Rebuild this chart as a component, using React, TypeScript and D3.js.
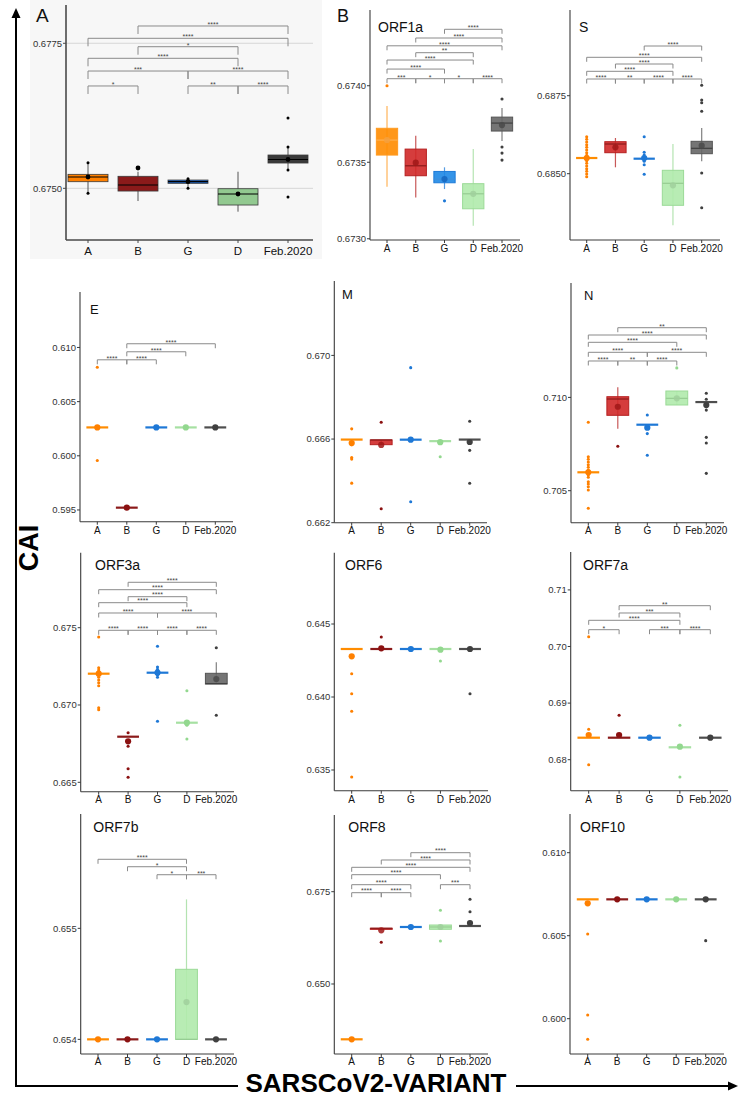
import React from "react";
import * as d3 from "d3";

const CATS = ["A", "B", "G", "D", "Feb.2020"];
const FONT = "Liberation Sans, Arial, Helvetica, sans-serif";

type Box = { q1: number; med: number; q3: number; lo: number; hi: number; mean: number; out: number[] };
type Bracket = [string, string, number, string];

const flat = (v: number, mean: number, out: number[]): Box => ({ q1: v, med: v, q3: v, lo: v, hi: v, mean, out });

// ---------- Panel A (whole genome) ----------
const allBoxes: Box[] = [
  { q1: 0.675114, med: 0.675195, q3: 0.675241, lo: 0.674914, hi: 0.675441, mean: 0.675195, out: [0.675441, 0.674914] },
  { q1: 0.674953, med: 0.675057, q3: 0.675207, lo: 0.674781, hi: 0.675286, mean: 0.67535, out: [] },
  { q1: 0.675086, med: 0.675114, q3: 0.675143, lo: 0.675, hi: 0.675166, mean: 0.675114, out: [0.675166, 0.675] },
  { q1: 0.674712, med: 0.674902, q3: 0.674993, lo: 0.674597, hi: 0.675286, mean: 0.674902, out: [] },
  { q1: 0.675436, med: 0.675497, q3: 0.675574, lo: 0.675316, hi: 0.675712, mean: 0.675497, out: [0.676212, 0.675712, 0.675316, 0.67485] },
];
const allBrackets: Bracket[] = [
  ["B", "Feb.2020", 0.677798, "****"],
  ["A", "Feb.2020", 0.677586, "****"],
  ["B", "D", 0.677441, "*"],
  ["A", "D", 0.677241, "****"],
  ["A", "G", 0.677022, "***"],
  ["G", "Feb.2020", 0.677022, "****"],
  ["A", "B", 0.676764, "*"],
  ["G", "D", 0.676764, "**"],
  ["D", "Feb.2020", 0.676764, "****"],
];
const allTicks = [0.675, 0.6775];

// ---------- ORF1a ----------
const orf1aBoxes: Box[] = [
  { q1: 0.673547, med: 0.673645, q3: 0.673722, lo: 0.67334, hi: 0.673867, mean: 0.673645, out: [0.674] },
  { q1: 0.673412, med: 0.673477, q3: 0.673586, lo: 0.67327, hi: 0.673673, mean: 0.673497, out: [] },
  { q1: 0.673366, med: 0.67339, q3: 0.67344, lo: 0.673325, hi: 0.673467, mean: 0.67339, out: [0.673248] },
  { q1: 0.673196, med: 0.673294, q3: 0.67336, lo: 0.673085, hi: 0.673586, mean: 0.673294, out: [] },
  { q1: 0.673704, med: 0.673756, q3: 0.673795, lo: 0.673639, hi: 0.673854, mean: 0.673743, out: [0.673913, 0.6736, 0.67356, 0.673514] },
];
const orf1aBrackets: Bracket[] = [
  ["G", "Feb.2020", 0.674369, "****"],
  ["B", "Feb.2020", 0.674312, "****"],
  ["A", "Feb.2020", 0.674261, "****"],
  ["B", "D", 0.674216, "**"],
  ["A", "D", 0.674168, "****"],
  ["A", "G", 0.674109, "****"],
  ["A", "B", 0.674046, "***"],
  ["B", "G", 0.674046, "*"],
  ["G", "D", 0.674046, "*"],
  ["D", "Feb.2020", 0.674046, "****"],
];
const orf1aTicks = [0.673, 0.6735, 0.674];

// ---------- S ----------
const sBoxes: Box[] = [
  flat(0.685503, 0.685503, [0.686186, 0.686103, 0.686016, 0.685929, 0.685846, 0.68576, 0.685673, 0.68559, 0.685417, 0.685333, 0.685247, 0.68516, 0.685077, 0.68499, 0.684904]),
  { q1: 0.685673, med: 0.685952, q3: 0.686026, lo: 0.685205, hi: 0.686144, mean: 0.685846, out: [] },
  flat(0.685481, 0.685503, [0.686186, 0.685686, 0.685599, 0.685397, 0.685288, 0.684981]),
  { q1: 0.683987, med: 0.684692, q3: 0.685109, lo: 0.683346, hi: 0.685952, mean: 0.684628, out: [] },
  { q1: 0.685641, med: 0.685814, q3: 0.686038, lo: 0.685397, hi: 0.686465, mean: 0.685897, out: [0.687833, 0.687362, 0.687276, 0.687, 0.685022, 0.68391] },
];
const sBrackets: Bracket[] = [
  ["G", "Feb.2020", 0.689093, "****"],
  ["A", "Feb.2020", 0.688731, "****"],
  ["B", "D", 0.688516, "****"],
  ["A", "D", 0.688282, "****"],
  ["A", "B", 0.688035, "****"],
  ["B", "G", 0.688035, "**"],
  ["G", "D", 0.688035, "****"],
  ["D", "Feb.2020", 0.688035, "****"],
];
const sTicks = [0.685, 0.6875];

// ---------- E ----------
const eBoxes: Box[] = [
  flat(0.60262, 0.60262, [0.608176, 0.599565]),
  flat(0.595213, 0.595213, []),
  flat(0.60262, 0.60262, []),
  flat(0.60262, 0.60262, []),
  flat(0.60262, 0.60262, []),
];
const eBrackets: Bracket[] = [
  ["B", "Feb.2020", 0.610343, "****"],
  ["B", "D", 0.609602, "****"],
  ["A", "B", 0.608861, "****"],
  ["B", "G", 0.608861, "****"],
];
const eTicks = [0.595, 0.6, 0.605, 0.61];

// ---------- M ----------
const mBoxes: Box[] = [
  flat(0.665975, 0.66581, [0.666489, 0.665731, 0.665121, 0.665041, 0.663892]),
  { q1: 0.665731, med: 0.665957, q3: 0.665957, lo: 0.665731, hi: 0.665957, mean: 0.66572, out: [0.6668, 0.66267] },
  flat(0.66597, 0.66597, [0.669414, 0.663]),
  flat(0.6659, 0.66585, [0.665155]),
  flat(0.665975, 0.66586, [0.66685, 0.66546, 0.66389]),
];
const mBrackets: Bracket[] = [];
const mTicks = [0.662, 0.666, 0.67];

// ---------- N ----------
const nBoxes: Box[] = [
  flat(0.705986, 0.705986, [0.708666, 0.706822, 0.706683, 0.706538, 0.706393, 0.706254, 0.706109, 0.705841, 0.705718, 0.705482, 0.705359, 0.705214, 0.705038, 0.704057]),
  { q1: 0.70904, med: 0.709914, q3: 0.710037, lo: 0.70832, hi: 0.71054, mean: 0.7095, out: [0.70738] },
  flat(0.708537, 0.70838, [0.70906, 0.70806, 0.7069]),
  { q1: 0.709593, med: 0.70995, q3: 0.710343, lo: 0.709593, hi: 0.710343, mean: 0.70995, out: [0.71158] },
  flat(0.70975, 0.70959, [0.71022, 0.7099, 0.70932, 0.70786, 0.70756, 0.70593]),
];
const nBrackets: Bracket[] = [
  ["B", "Feb.2020", 0.713735, "**"],
  ["A", "Feb.2020", 0.713344, "****"],
  ["A", "D", 0.712953, "****"],
  ["A", "G", 0.712417, "****"],
  ["G", "Feb.2020", 0.712417, "****"],
  ["A", "B", 0.711951, "****"],
  ["B", "G", 0.711951, "**"],
  ["G", "D", 0.711951, "****"],
];
const nTicks = [0.705, 0.71];

// ---------- ORF3a ----------
const orf3aBoxes: Box[] = [
  flat(0.672025, 0.672025, [0.674398, 0.672413, 0.672264, 0.672135, 0.67194, 0.671792, 0.671617, 0.671443, 0.671248, 0.669825, 0.669696]),
  flat(0.66795, 0.667652, [0.668208, 0.667329, 0.66588, 0.665323]),
  flat(0.672089, 0.672089, [0.673797, 0.672458, 0.672309, 0.67194, 0.671792, 0.668946]),
  flat(0.668855, 0.668855, [0.670925, 0.668687, 0.667801]),
  { q1: 0.671358, med: 0.67138, q3: 0.67205, lo: 0.671358, hi: 0.672762, mean: 0.671682, out: [0.673706, 0.669334] },
];
const orf3aBrackets: Bracket[] = [
  ["B", "Feb.2020", 0.677937, "****"],
  ["A", "Feb.2020", 0.677458, "****"],
  ["B", "D", 0.677005, "****"],
  ["A", "D", 0.676617, "****"],
  ["A", "G", 0.675951, "****"],
  ["G", "Feb.2020", 0.675951, "****"],
  ["A", "B", 0.674832, "****"],
  ["B", "G", 0.674832, "****"],
  ["G", "D", 0.674832, "****"],
  ["D", "Feb.2020", 0.674832, "****"],
];
const orf3aTicks = [0.665, 0.67, 0.675];

// ---------- ORF6 ----------
const orf6Boxes: Box[] = [
  flat(0.643288, 0.642788, [0.641596, 0.640226, 0.63902, 0.63452]),
  flat(0.643288, 0.643336, [0.64411]),
  flat(0.643288, 0.643288, []),
  flat(0.643288, 0.64324, [0.642466]),
  flat(0.643288, 0.643288, [0.640226]),
];
const orf6Brackets: Bracket[] = [];
const orf6Ticks = [0.635, 0.64, 0.645];

// ---------- ORF7a ----------
const orf7aBoxes: Box[] = [
  flat(0.683887, 0.684364, [0.701731, 0.685371, 0.679117]),
  flat(0.683887, 0.684364, [0.687845]),
  flat(0.683887, 0.683887, []),
  flat(0.682191, 0.682297, [0.686078, 0.676943]),
  flat(0.683887, 0.683887, []),
];
const orf7aBrackets: Bracket[] = [
  ["B", "Feb.2020", 0.707208, "**"],
  ["B", "D", 0.705919, "***"],
  ["A", "D", 0.704629, "****"],
  ["A", "B", 0.702968, "*"],
  ["G", "D", 0.702968, "***"],
  ["D", "Feb.2020", 0.702968, "****"],
];
const orf7aTicks = [0.68, 0.69, 0.7, 0.71];

// ---------- ORF7b ----------
const orf7bBoxes: Box[] = [
  flat(0.654, 0.654, []),
  flat(0.654, 0.654, []),
  flat(0.654, 0.654, []),
  { q1: 0.654, med: 0.654, q3: 0.654631, lo: 0.654, hi: 0.655261, mean: 0.654336, out: [] },
  flat(0.654, 0.654, []),
];
const orf7bBrackets: Bracket[] = [
  ["A", "D", 0.655622, "****"],
  ["B", "D", 0.655555, "*"],
  ["G", "D", 0.655483, "*"],
  ["D", "Feb.2020", 0.655483, "***"],
];
const orf7bTicks = [0.654, 0.655];

// ---------- ORF8 ----------
const orf8Boxes: Box[] = [
  flat(0.63502, 0.63502, []),
  { q1: 0.6648, med: 0.66509, q3: 0.66509, lo: 0.6648, hi: 0.66509, mean: 0.66455, out: [0.66129] },
  flat(0.66544, 0.66544, []),
  { q1: 0.66482, med: 0.66544, q3: 0.66598, lo: 0.66482, hi: 0.66598, mean: 0.66544, out: [0.66996, 0.66165] },
  flat(0.66571, 0.66652, [0.67294, 0.66958]),
];
const orf8Brackets: Bracket[] = [
  ["G", "Feb.2020", 0.685564, "****"],
  ["B", "Feb.2020", 0.683586, "****"],
  ["A", "Feb.2020", 0.681609, "****"],
  ["A", "D", 0.679605, "****"],
  ["A", "G", 0.676896, "****"],
  ["D", "Feb.2020", 0.676896, "***"],
  ["A", "B", 0.674729, "****"],
  ["B", "G", 0.674729, "****"],
];
const orf8Ticks = [0.65, 0.675];

// ---------- ORF10 ----------
const orf10Boxes: Box[] = [
  flat(0.60719, 0.60695, [0.6051, 0.60022, 0.59876]),
  flat(0.60719, 0.60719, []),
  flat(0.60719, 0.60719, []),
  flat(0.60719, 0.60719, []),
  flat(0.60719, 0.60719, [0.6047]),
];
const orf10Brackets: Bracket[] = [];
const orf10Ticks = [0.6, 0.605, 0.61];

// ---------- styles ----------
const classicFill = ["#FF8000", "#8B1A1A", "#1F66C8", "#92C990", "#3A3A3A"];
const softFill = ["#FF8C00", "#D02828", "#1E88E5", "#B0EAAC", "#666666"];
const softStroke = ["#FF9A20", "#B52020", "#1E7BD8", "#9BDA97", "#555555"];
const softMedian = ["#FFB050", "#8B1A1A", "#3F8FDA", "#96CC92", "#404040"];
const softMean = ["#F4A040", "#A01818", "#1566C0", "#A0D09C", "#4A4A4A"];
const lineColor = ["#FF8C00", "#8B1A1A", "#1E78D6", "#A6E0A2", "#4E4E4E"];
const pointColor = ["#FF8000", "#8B1111", "#1E78D6", "#93D88F", "#404040"];

type Panel = {
  title: string;
  boxes: Box[];
  brackets: Bracket[];
  ticks: number[];
  fmt: string;
  domain: [number, number];
  x0: number; xA: number; xF: number; xEnd: number;
  yTop: number; yBot: number;
  tx: number; ty: number; tsize: number;
  labY: number;
  classic?: boolean;
};

const panels: Panel[] = [
  { title: "", boxes: allBoxes, brackets: allBrackets, ticks: allTicks, fmt: ".4f", domain: [0.674109, 0.67816], x0: 66, xA: 88, xF: 288, xEnd: 313, yTop: 5, yBot: 240, tx: 0, ty: 0, tsize: 0, labY: 255, classic: true },
  { title: "ORF1a", boxes: orf1aBoxes, brackets: orf1aBrackets, ticks: orf1aTicks, fmt: ".4f", domain: [0.672992, 0.674495], x0: 370, xA: 387, xF: 502, xEnd: 520, yTop: 10, yBot: 240, tx: 378, ty: 32, tsize: 14, labY: 252 },
  { title: "S", boxes: sBoxes, brackets: sBrackets, ticks: sTicks, fmt: ".4f", domain: [0.682875, 0.690247], x0: 570, xA: 586.7, xF: 701.7, xEnd: 720, yTop: 10, yBot: 240, tx: 579, ty: 32, tsize: 14, labY: 252 },
  { title: "E", boxes: eBoxes, brackets: eBrackets, ticks: eTicks, fmt: ".3f", domain: [0.593917, 0.61512], x0: 80, xA: 97.3, xF: 215.3, xEnd: 233, yTop: 292, yBot: 521.7, tx: 90, ty: 314, tsize: 13, labY: 534 },
  { title: "M", boxes: mBoxes, brackets: mBrackets, ticks: mTicks, fmt: ".3f", domain: [0.662, 0.673558], x0: 334.3, xA: 351.7, xF: 469.7, xEnd: 487, yTop: 281, yBot: 522.7, tx: 342, ty: 299, tsize: 13, labY: 534 },
  { title: "N", boxes: nBoxes, brackets: nBrackets, ticks: nTicks, fmt: ".3f", domain: [0.703285, 0.716131], x0: 571, xA: 588.3, xF: 706.3, xEnd: 724, yTop: 283, yBot: 522.7, tx: 584, ty: 300, tsize: 13, labY: 534 },
  { title: "ORF3a", boxes: orf3aBoxes, brackets: orf3aBrackets, ticks: orf3aTicks, fmt: ".3f", domain: [0.664392, 0.679851], x0: 80.7, xA: 98.7, xF: 216.3, xEnd: 234, yTop: 552.7, yBot: 791.7, tx: 95, ty: 570, tsize: 14, labY: 803 },
  { title: "ORF6", boxes: orf6Boxes, brackets: orf6Brackets, ticks: orf6Ticks, fmt: ".3f", domain: [0.633582, 0.649884], x0: 334.3, xA: 351.7, xF: 470, xEnd: 488, yTop: 552.7, yBot: 790.7, tx: 345, ty: 570, tsize: 14, labY: 803 },
  { title: "ORF7a", boxes: orf7aBoxes, brackets: orf7aBrackets, ticks: orf7aTicks, fmt: ".2f", domain: [0.674523, 0.716696], x0: 570.7, xA: 588.7, xF: 710.3, xEnd: 728, yTop: 552, yBot: 790.7, tx: 583, ty: 570, tsize: 14, labY: 803 },
  { title: "ORF7b", boxes: orf7bBoxes, brackets: orf7bBrackets, ticks: orf7bTicks, fmt: ".3f", domain: [0.653868, 0.65603], x0: 80.7, xA: 98, xF: 216, xEnd: 234, yTop: 814, yBot: 1054, tx: 93.3, ty: 832, tsize: 14, labY: 1065 },
  { title: "ORF8", boxes: orf8Boxes, brackets: orf8Brackets, ticks: orf8Ticks, fmt: ".3f", domain: [0.63104, 0.695774], x0: 334.3, xA: 351.7, xF: 470, xEnd: 488, yTop: 815, yBot: 1054, tx: 348.3, ty: 832, tsize: 14, labY: 1065 },
  { title: "ORF10", boxes: orf10Boxes, brackets: orf10Brackets, ticks: orf10Ticks, fmt: ".3f", domain: [0.597873, 0.612331], x0: 570, xA: 587.7, xF: 705.7, xEnd: 724, yTop: 814, yBot: 1054, tx: 580, ty: 832, tsize: 14, labY: 1065 },
];

function PanelView({ p }: { p: Panel }) {
  const ys = d3.scaleLinear().domain(p.domain).range([p.yBot, p.yTop]);
  const xs = d3.scalePoint<string>().domain(CATS).range([p.xA, p.xF]);
  const step = xs.step();
  const bw = step * (p.classic ? 0.8 : 0.74);
  const fmt = d3.format(p.fmt);
  const tickLen = p.classic ? 8 : 4.5;
  const axisColor = p.classic ? "#4a4a4a" : "#3a3a3a";
  return (
    <g>
      {p.classic && (
        <g>
          {p.ticks.map((t) => (
            <line key={"g" + t} x1={p.x0} x2={p.xEnd} y1={ys(t)} y2={ys(t)} stroke="#D6D6D6" strokeWidth={1} />
          ))}
        </g>
      )}
      <line x1={p.x0} x2={p.x0} y1={p.yTop} y2={p.yBot} stroke={axisColor} strokeWidth={p.classic ? 1.6 : 1.1} />
      <line x1={p.x0} x2={p.xEnd} y1={p.yBot} y2={p.yBot} stroke={axisColor} strokeWidth={p.classic ? 1.6 : 1.1} />
      {p.ticks.map((t) => (
        <g key={"t" + t}>
          <line x1={p.x0 - 3} x2={p.x0} y1={ys(t)} y2={ys(t)} stroke={axisColor} strokeWidth={1} />
          <text x={p.x0 - 4} y={ys(t) + 3.3} fontSize={9.5} textAnchor="end" fill="#333" fontFamily={FONT}>
            {fmt(t)}
          </text>
        </g>
      ))}
      {CATS.map((c) => (
        <g key={"c" + c}>
          <line x1={xs(c)} x2={xs(c)} y1={p.yBot} y2={p.yBot + 3} stroke={axisColor} strokeWidth={1} />
          <text x={xs(c)} y={p.labY} fontSize={p.classic ? 11.5 : 10} textAnchor="middle" fill="#111" fontFamily={FONT}>
            {c}
          </text>
        </g>
      ))}
      {p.title && (
        <text x={p.tx} y={p.ty} fontSize={p.tsize} fill="#111" fontFamily={FONT}>
          {p.title}
        </text>
      )}
      {p.brackets.map((b, i) => {
        const x1 = xs(b[0])!;
        const x2 = xs(b[1])!;
        const y = ys(b[2]);
        return (
          <g key={"b" + i}>
            <path d={`M${x1},${y + tickLen}V${y}H${x2}V${y + tickLen}`} fill="none" stroke="#8a8a8a" strokeWidth={1} />
            <text x={(x1 + x2) / 2} y={y + 0.8} fontSize={7} textAnchor="middle" fill="#444" fontFamily={FONT}>
              {b[3]}
            </text>
          </g>
        );
      })}
      {p.boxes.map((bx, i) => {
        const cx = xs(CATS[i])!;
        const isFlat = Math.abs(bx.q3 - bx.q1) < 1e-9;
        if (p.classic) {
          return (
            <g key={"x" + i}>
              <line x1={cx} x2={cx} y1={ys(bx.hi)} y2={ys(bx.lo)} stroke="#555" strokeWidth={1} />
              <rect x={cx - bw / 2} y={ys(bx.q3)} width={bw} height={Math.max(ys(bx.q1) - ys(bx.q3), 1)} fill={classicFill[i]} stroke="#3a3a3a" strokeWidth={0.8} />
              <line x1={cx - bw / 2} x2={cx + bw / 2} y1={ys(bx.med)} y2={ys(bx.med)} stroke="#000" strokeWidth={1.2} />
              {bx.out.map((o, j) => (
                <circle key={j} cx={cx} cy={ys(o)} r={1.5} fill="#000" />
              ))}
              <circle cx={cx} cy={ys(bx.mean)} r={2.4} fill="#000" />
            </g>
          );
        }
        return (
          <g key={"x" + i}>
            {bx.hi > bx.lo && (
              <line x1={cx} x2={cx} y1={ys(bx.hi)} y2={ys(bx.lo)} stroke={softStroke[i]} strokeOpacity={0.75} strokeWidth={1.2} />
            )}
            {isFlat ? (
              <line x1={cx - bw / 2} x2={cx + bw / 2} y1={ys(bx.med)} y2={ys(bx.med)} stroke={lineColor[i]} strokeWidth={2.2} />
            ) : (
              <g>
                <rect x={cx - bw / 2} y={ys(bx.q3)} width={bw} height={ys(bx.q1) - ys(bx.q3)} fill={softFill[i]} fillOpacity={0.9} stroke={softStroke[i]} strokeWidth={1} />
                <line x1={cx - bw / 2} x2={cx + bw / 2} y1={ys(bx.med)} y2={ys(bx.med)} stroke={softMedian[i]} strokeWidth={1.2} />
              </g>
            )}
            {bx.out.map((o, j) => (
              <circle key={j} cx={cx} cy={ys(o)} r={1.55} fill={pointColor[i]} />
            ))}
            <circle cx={cx} cy={ys(bx.mean)} r={3.1} fill={isFlat ? pointColor[i] : softMean[i]} fillOpacity={isFlat ? 1 : 0.85} />
          </g>
        );
      })}
    </g>
  );
}

export default function App() {
  return (
    <svg width={739} height={1097} style={{ position: "absolute", left: 0, top: 0, background: "#fff" }} fontFamily={FONT}>
      <rect x={0} y={0} width={739} height={1097} fill="#fff" />
      <rect x={30} y={0} width={292} height={259} fill="#F7F7F7" />
      {panels.map((p, i) => (
        <PanelView key={i} p={p} />
      ))}
      <text x={36} y={22} fontSize={19} fill="#111" fontFamily={FONT}>A</text>
      <text x={337} y={22} fontSize={18} fill="#111" fontFamily={FONT}>B</text>
      <line x1={16} x2={16} y1={1086} y2={14} stroke="#000" strokeWidth={2} />
      <path d="M16,8 L11.5,18 L20.5,18 Z" fill="#000" />
      <line x1={15} x2={730} y1={1086} y2={1086} stroke="#000" strokeWidth={2} />
      <path d="M738,1086 L728,1081.5 L728,1090.5 Z" fill="#000" />
      <rect x={238} y={1068} width={278} height={26} fill="#fff" />
      <text x={376} y={1092} fontSize={26} fontWeight="bold" textAnchor="middle" fill="#000" fontFamily={FONT}>
        SARSCoV2-VARIANT
      </text>
      <text transform="translate(38,548) rotate(-90)" fontSize={27} fontWeight="bold" textAnchor="middle" fill="#000" fontFamily={FONT}>
        CAI
      </text>
    </svg>
  );
}
